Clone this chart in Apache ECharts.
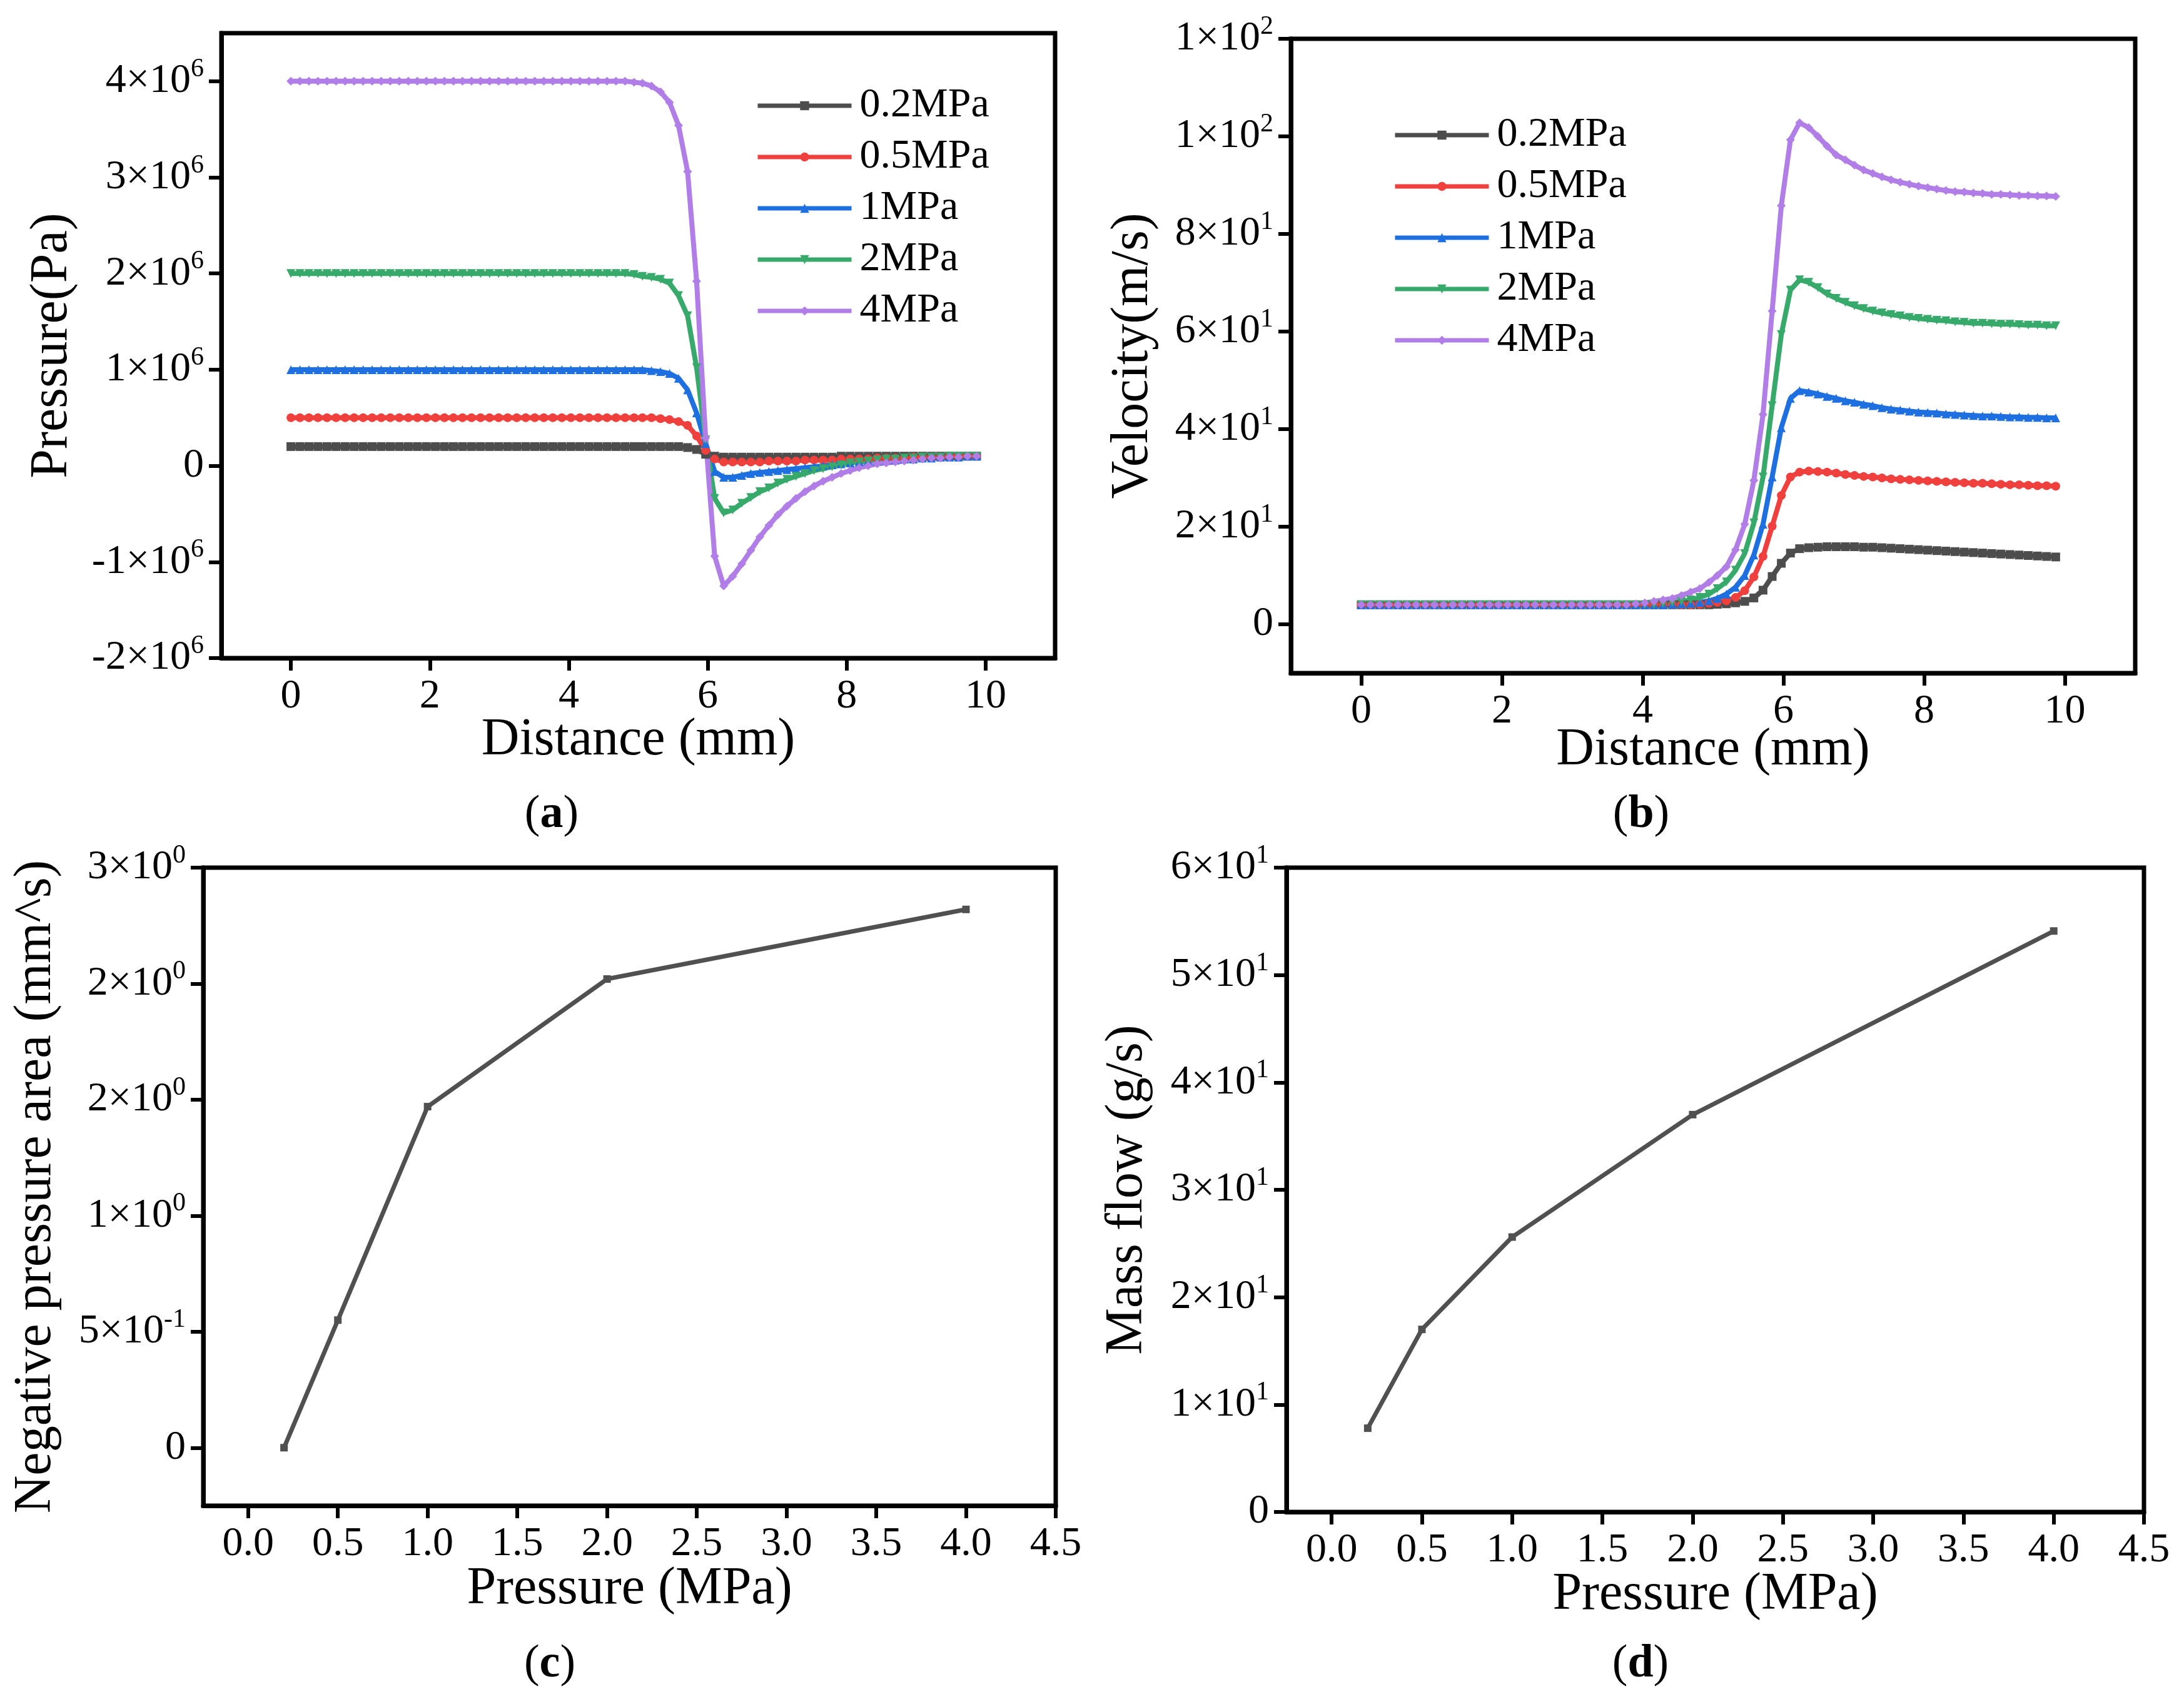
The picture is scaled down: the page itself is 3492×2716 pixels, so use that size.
<!DOCTYPE html>
<html>
<head>
<meta charset="utf-8">
<script src="https://cdn.jsdelivr.net/npm/echarts@6/dist/echarts.min.js"></script>
<style>
  html, body { margin: 0; padding: 0; background: #fff; }
  #chart { width: 3492px; height: 2716px; }
</style>
</head>
<body>
<div id="chart"></div>
<script>
// distance along the nozzle axis (mm), shared by panels (a) and (b)
const distance = [
  0.00, 0.13, 0.26, 0.39, 0.52, 0.65, 0.78, 0.91, 1.04, 1.17, 1.30,
  1.43, 1.56, 1.69, 1.82, 1.95, 2.08, 2.21, 2.34, 2.47, 2.60, 2.73,
  2.86, 2.99, 3.12, 3.25, 3.38, 3.51, 3.64, 3.77, 3.90, 4.03, 4.16,
  4.29, 4.42, 4.55, 4.68, 4.81, 4.94, 5.06, 5.19, 5.32, 5.45, 5.58,
  5.71, 5.84, 5.97, 6.10, 6.23, 6.36, 6.49, 6.62, 6.75, 6.88, 7.01,
  7.14, 7.27, 7.40, 7.53, 7.66, 7.79, 7.92, 8.05, 8.18, 8.31, 8.44,
  8.57, 8.70, 8.83, 8.96, 9.09, 9.22, 9.35, 9.48, 9.61, 9.74, 9.87
];

const inletNames = ['0.2MPa', '0.5MPa', '1MPa', '2MPa', '4MPa'];

// (a) pressure, in MPa (plotted in Pa)
const pressure02 = [
  0.2, 0.2, 0.2, 0.2, 0.2, 0.2, 0.2, 0.2, 0.2, 0.2, 0.2,
  0.2, 0.2, 0.2, 0.2, 0.2, 0.2, 0.2, 0.2, 0.2, 0.2, 0.2,
  0.2, 0.2, 0.2, 0.2, 0.2, 0.2, 0.2, 0.2, 0.2, 0.2, 0.2,
  0.2, 0.2, 0.2, 0.2, 0.2, 0.2, 0.2, 0.2, 0.2, 0.2, 0.2,
  0.19, 0.17, 0.12, 0.10, 0.09, 0.09, 0.09, 0.09, 0.09, 0.09, 0.09,
  0.09, 0.09, 0.09, 0.09, 0.09, 0.09, 0.10, 0.10, 0.10, 0.10, 0.10,
  0.10, 0.10, 0.10, 0.10, 0.10, 0.10, 0.10, 0.10, 0.10, 0.10, 0.10
];
const pressure05 = [
  0.5, 0.5, 0.5, 0.5, 0.5, 0.5, 0.5, 0.5, 0.5, 0.5, 0.5,
  0.5, 0.5, 0.5, 0.5, 0.5, 0.5, 0.5, 0.5, 0.5, 0.5, 0.5,
  0.5, 0.5, 0.5, 0.5, 0.5, 0.5, 0.5, 0.5, 0.5, 0.5, 0.5,
  0.5, 0.5, 0.5, 0.5, 0.5, 0.5, 0.5, 0.5, 0.49, 0.48, 0.46,
  0.42, 0.31, 0.16, 0.07, 0.04, 0.04, 0.04, 0.04, 0.04, 0.05, 0.05,
  0.05, 0.05, 0.06, 0.06, 0.06, 0.06, 0.07, 0.07, 0.07, 0.07, 0.08,
  0.08, 0.08, 0.08, 0.09, 0.09, 0.09, 0.09, 0.10, 0.10, 0.10, 0.10
];
const pressure1 = [
  1, 1, 1, 1, 1, 1, 1, 1, 1, 1, 1,
  1, 1, 1, 1, 1, 1, 1, 1, 1, 1, 1,
  1, 1, 1, 1, 1, 1, 1, 1, 1, 1, 1,
  1, 1, 1, 1, 1, 1, 1, 0.99, 0.98, 0.96, 0.91,
  0.79, 0.55, 0.23, -0.06, -0.12, -0.12, -0.10, -0.08, -0.07, -0.06, -0.05,
  -0.04, -0.03, -0.02, -0.01, 0.00, 0.01, 0.02, 0.03, 0.04, 0.05, 0.05,
  0.06, 0.06, 0.07, 0.07, 0.08, 0.08, 0.09, 0.09, 0.09, 0.10, 0.10
];
const pressure2 = [
  2, 2, 2, 2, 2, 2, 2, 2, 2, 2, 2,
  2, 2, 2, 2, 2, 2, 2, 2, 2, 2, 2,
  2, 2, 2, 2, 2, 2, 2, 2, 2, 2, 2,
  2, 2, 2, 2, 2, 1.99, 1.97, 1.96, 1.94, 1.90, 1.77,
  1.56, 1.02, 0.27, -0.34, -0.49, -0.46, -0.39, -0.33, -0.27, -0.23, -0.18,
  -0.14, -0.11, -0.08, -0.05, -0.03, -0.01, 0.01, 0.03, 0.04, 0.05, 0.06,
  0.07, 0.07, 0.08, 0.08, 0.09, 0.09, 0.09, 0.10, 0.10, 0.10, 0.10
];
const pressure4 = [
  4, 4, 4, 4, 4, 4, 4, 4, 4, 4, 4,
  4, 4, 4, 4, 4, 4, 4, 4, 4, 4, 4,
  4, 4, 4, 4, 4, 4, 4, 4, 4, 4, 4,
  4, 4, 4, 4, 4, 3.99, 3.98, 3.95, 3.89, 3.78, 3.54,
  3.06, 1.92, 0.29, -0.94, -1.25, -1.15, -1.02, -0.88, -0.74, -0.62, -0.51,
  -0.42, -0.34, -0.27, -0.21, -0.16, -0.12, -0.08, -0.05, -0.02, 0.00, 0.02,
  0.03, 0.04, 0.05, 0.06, 0.07, 0.08, 0.08, 0.09, 0.09, 0.10, 0.10
];

// (b) velocity, m/s
const velocity02 = [
  4, 4, 4, 4, 4, 4, 4, 4, 4, 4, 4,
  4, 4, 4, 4, 4, 4, 4, 4, 4, 4, 4,
  4, 4, 4, 4, 4, 4, 4, 4, 4, 4, 4,
  4, 4, 4, 4, 4, 4, 4.1, 4.2, 4.4, 4.7, 5.4,
  7.0, 9.8, 12.5, 14.6, 15.5, 15.7, 15.8, 15.9, 15.9, 15.9, 15.9,
  15.8, 15.8, 15.7, 15.6, 15.5, 15.4, 15.3, 15.2, 15.1, 15.0, 14.9,
  14.8, 14.7, 14.6, 14.5, 14.4, 14.3, 14.2, 14.1, 14.0, 13.9, 13.8
];
const velocity05 = [
  4, 4, 4, 4, 4, 4, 4, 4, 4, 4, 4,
  4, 4, 4, 4, 4, 4, 4, 4, 4, 4, 4,
  4, 4, 4, 4, 4, 4, 4, 4, 4, 4, 4,
  4, 4, 4, 4, 4.1, 4.3, 4.5, 4.8, 5.5, 6.9, 9.7,
  13.9, 20.1, 26.4, 30.2, 31.2, 31.4, 31.3, 31.2, 31.0, 30.7, 30.5,
  30.3, 30.2, 30.0, 29.8, 29.7, 29.6, 29.5, 29.4, 29.3, 29.2, 29.1,
  29.0, 28.9, 28.9, 28.8, 28.7, 28.6, 28.6, 28.5, 28.4, 28.4, 28.3
];
const velocity1 = [
  4, 4, 4, 4, 4, 4, 4, 4, 4, 4, 4,
  4, 4, 4, 4, 4, 4, 4, 4, 4, 4, 4,
  4, 4, 4, 4, 4, 4, 4, 4, 4, 4, 4,
  4, 4.1, 4.2, 4.3, 4.5, 4.8, 5.3, 6.2, 7.6, 10.0, 14.2,
  20.5, 30.2, 40.3, 46.3, 47.9, 47.6, 47.2, 46.7, 46.3, 45.8, 45.5,
  45.1, 44.8, 44.4, 44.1, 43.9, 43.7, 43.5, 43.4, 43.3, 43.1, 43.0,
  42.9, 42.8, 42.7, 42.7, 42.6, 42.5, 42.5, 42.4, 42.4, 42.3, 42.3
];
const velocity2 = [
  4, 4, 4, 4, 4, 4, 4, 4, 4, 4, 4,
  4, 4, 4, 4, 4, 4, 4, 4, 4, 4, 4,
  4, 4, 4, 4, 4, 4, 4, 4, 4, 4, 4.1,
  4.3, 4.5, 4.7, 5.0, 5.5, 6.2, 7.3, 8.7, 11.1, 14.5, 20.8,
  30.2, 44.8, 59.4, 68.5, 70.6, 70.1, 69.0, 67.7, 66.8, 66.0, 65.3,
  64.7, 64.2, 63.8, 63.5, 63.2, 62.9, 62.7, 62.5, 62.3, 62.2, 62.0,
  61.9, 61.7, 61.7, 61.6, 61.5, 61.5, 61.4, 61.3, 61.3, 61.2, 61.2
];
const velocity4 = [
  4, 4, 4, 4, 4, 4, 4, 4, 4, 4, 4,
  4, 4, 4, 4, 4, 4, 4, 4, 4, 4, 4,
  4, 4, 4, 4, 4, 4, 4, 4, 4.2, 4.4, 4.7,
  5.0, 5.3, 5.9, 6.6, 7.3, 8.6, 10.0, 11.8, 15.3, 20.5, 29.5,
  43.0, 64.2, 85.8, 99.3, 102.8, 101.8, 100.0, 98.0, 96.2, 95.2, 94.1,
  93.1, 92.4, 91.7, 91.1, 90.6, 90.2, 89.8, 89.5, 89.2, 88.9, 88.7,
  88.6, 88.4, 88.3, 88.1, 88.1, 88.0, 87.9, 87.9, 87.8, 87.8, 87.7
];

// (c) and (d)
const inletPressure = [0.2, 0.5, 1.0, 2.0, 4.0];
const negativeArea = [0, 0.55, 1.47, 2.02, 2.32];
const massFlow = [7.8, 17.0, 25.6, 37.0, 54.1];

// tick labels
const distanceTicks = [0, 2, 4, 6, 8, 10];
const pressureTicksA = [-2e6, -1e6, 0, 1e6, 2e6, 3e6, 4e6];
const velocityTicks = [0, 20, 40, 60, 80, 100, 120];
const inletTicks = [0, 0.5, 1, 1.5, 2, 2.5, 3, 3.5, 4, 4.5];
const areaTicks = [0, 0.5, 1, 1.5, 2, 2.5];
const flowTicks = [0, 10, 20, 30, 40, 50, 60];

const colors = ['#4d4d4d', '#f0403d', '#1e6fe0', '#37a96a', '#b07ee6'];
const symbols = ['rect', 'circle', 'triangle', 'triangle', 'diamond'];
const rotations = [0, 0, 0, 180, 0];

const FONT = 'Liberation Serif';

function sciLabel(v) {
  if (Math.abs(v) < 1e-12) return '{b|0}';
  let e = Math.floor(Math.log10(Math.abs(v)) + 1e-9);
  let m = Math.round(v / Math.pow(10, e));
  if (Math.abs(m) === 10) { m = m / 10; e += 1; }
  return '{b|' + m + '×10}{s|' + e + '}';
}

const sciRich = {
  b: { fontFamily: FONT, fontSize: 66, lineHeight: 80, color: '#000' },
  s: { fontFamily: FONT, fontSize: 42, lineHeight: 40, color: '#000', verticalAlign: 'top' }
};

function xAxis(grid, min, max, ticks, name, gap, fmt) {
  return {
    type: 'value', gridIndex: grid, min: min, max: max,
    name: name, nameLocation: 'middle', nameGap: gap, nameMoveOverlap: false,
    nameTextStyle: { fontFamily: FONT, fontSize: 84, lineHeight: 84, color: '#000' },
    axisLine: { show: true, onZero: false, lineStyle: { color: '#000', width: 7 } },
    axisTick: { show: true, inside: false, length: 20, customValues: ticks, lineStyle: { color: '#000', width: 6 } },
    axisLabel: { show: true, margin: 29, customValues: ticks, fontFamily: FONT, fontSize: 66, lineHeight: 66, color: '#000', formatter: fmt },
    splitLine: { show: false }
  };
}

function yAxis(grid, min, max, ticks, name, gap) {
  return {
    type: 'value', gridIndex: grid, min: min, max: max,
    name: name, nameLocation: 'middle', nameGap: gap, nameMoveOverlap: false,
    nameTextStyle: { fontFamily: FONT, fontSize: 84, lineHeight: 84, color: '#000' },
    axisLine: { show: true, onZero: false, lineStyle: { color: '#000', width: 7 } },
    axisTick: { show: true, inside: false, length: 20, customValues: ticks, lineStyle: { color: '#000', width: 6 } },
    axisLabel: { show: true, margin: 28, customValues: ticks, formatter: sciLabel, rich: sciRich },
    splitLine: { show: false }
  };
}

function curve(name, idx, ys, scale, grid) {
  return {
    type: 'line', name: name, xAxisIndex: grid, yAxisIndex: grid,
    data: distance.map((x, i) => [x, ys[i] * scale]),
    symbol: symbols[idx], symbolRotate: rotations[idx], symbolSize: 14,
    lineStyle: { width: 8, color: colors[idx] },
    itemStyle: { color: colors[idx] },
    emphasis: { disabled: true }
  };
}

function trend(ys, grid) {
  return {
    type: 'line', xAxisIndex: grid, yAxisIndex: grid,
    data: inletPressure.map((x, i) => [x, ys[i]]),
    symbol: 'rect', symbolSize: 12,
    lineStyle: { width: 7, color: '#505050' },
    itemStyle: { color: '#505050' },
    emphasis: { disabled: true }
  };
}

function panelLabel(letter, x, y) {
  return {
    type: 'text', x: x, y: y,
    style: {
      text: '{p|(}{l|' + letter + '}{p|)}',
      align: 'center', verticalAlign: 'middle',
      rich: {
        p: { fontFamily: FONT, fontSize: 74, color: '#000' },
        l: { fontFamily: FONT, fontSize: 74, fontWeight: 'bold', color: '#000' }
      }
    }
  };
}

const legendBase = {
  data: inletNames, orient: 'vertical', selectedMode: false,
  itemWidth: 150, itemHeight: 18, itemGap: 16,
  lineStyle: { width: 7 },
  textStyle: { fontFamily: FONT, fontSize: 66, lineHeight: 66, color: '#000', padding: [0, 0, 0, 8] }
};

const pressureSets = [pressure02, pressure05, pressure1, pressure2, pressure4];
const velocitySets = [velocity02, velocity05, velocity1, velocity2, velocity4];

const chart = echarts.init(document.getElementById('chart'), null, { renderer: 'canvas' });

chart.setOption({
  animation: false,
  backgroundColor: '#fff',
  grid: [
    { left: 354, top: 53, width: 1333, height: 999, show: true, borderColor: '#000', borderWidth: 7, outerBoundsMode: 'none' },
    { left: 2064, top: 62, width: 1350, height: 1014, show: true, borderColor: '#000', borderWidth: 7, outerBoundsMode: 'none' },
    { left: 325, top: 1387, width: 1363, height: 1020, show: true, borderColor: '#000', borderWidth: 7, outerBoundsMode: 'none' },
    { left: 2057, top: 1387, width: 1371, height: 1030, show: true, borderColor: '#000', borderWidth: 7, outerBoundsMode: 'none' }
  ],
  xAxis: [
    xAxis(0, -1, 11, distanceTicks, 'Distance (mm)', 90, v => String(v)),
    xAxis(1, -1, 11, distanceTicks, 'Distance (mm)', 82, v => String(v)),
    xAxis(2, -0.25, 4.5, inletTicks, 'Pressure (MPa)', 92, v => v.toFixed(1)),
    xAxis(3, -0.25, 4.5, inletTicks, 'Pressure (MPa)', 91, v => v.toFixed(1))
  ],
  yAxis: [
    yAxis(0, -2e6, 4.5e6, pressureTicksA, 'Pressure(Pa)', 228),
    yAxis(1, -10, 120, velocityTicks, 'Velocity(m/s)', 210),
    yAxis(2, -0.25, 2.5, areaTicks, 'Negative pressure area (mm^s)', 225),
    yAxis(3, 0, 60, flowTicks, 'Mass flow (g/s)', 212)
  ],
  legend: [
    Object.assign({}, legendBase, { left: 1203, top: 131 }),
    Object.assign({}, legendBase, { left: 2222, top: 178 })
  ],
  series: [
    ...inletNames.map((n, i) => curve(n, i, pressureSets[i], 1e6, 0)),
    ...inletNames.map((n, i) => curve(n, i, velocitySets[i], 1, 1)),
    trend(negativeArea, 2),
    trend(massFlow, 3)
  ],
  graphic: [
    panelLabel('a', 882, 1303),
    panelLabel('b', 2624, 1303),
    panelLabel('c', 879, 2661),
    panelLabel('d', 2623, 2661)
  ]
});
</script>
</body>
</html>
